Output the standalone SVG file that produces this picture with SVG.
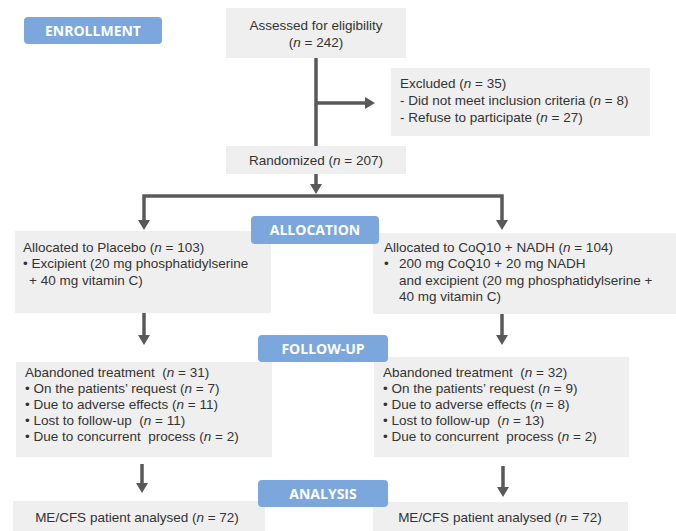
<svg xmlns="http://www.w3.org/2000/svg" width="676" height="531" viewBox="0 0 676 531">
<defs>
<style>
.box{fill:#efefef}
.badge{fill:#7ba7dc}
.bt{font-family:"Open Sans","DejaVu Sans",sans-serif;font-weight:bold;font-size:14px;fill:#fff;text-anchor:middle}
.t{font-family:"Liberation Sans",Arial,sans-serif;font-size:13.5px;fill:#333;white-space:pre}
.c{text-anchor:middle}
.i{font-style:italic}
.ln{fill:none;stroke:#595959;stroke-width:3.5;stroke-linejoin:miter}
</style>
<marker id="ah" markerUnits="userSpaceOnUse" markerWidth="12" markerHeight="12" refX="1" refY="6" orient="auto">
<path d="M0,0 L10,6 L0,12 z" fill="#595959"/>
</marker>
</defs>
<rect width="676" height="531" fill="#fff"/>

<g id="connectors">
<path class="ln" d="M316,58 V146"/>
<path class="ln" d="M316,103 H366" marker-end="url(#ah)"/>
<path class="ln" d="M316,174 V185" marker-end="url(#ah)"/>
<path class="ln" d="M316,196 H144 V221" marker-end="url(#ah)"/>
<path class="ln" d="M316,196 H502 V221" marker-end="url(#ah)"/>
<path class="ln" d="M144,313 V336" marker-end="url(#ah)"/>
<path class="ln" d="M502,314 V336" marker-end="url(#ah)"/>
<path class="ln" d="M142,464 V484" marker-end="url(#ah)"/>
<path class="ln" d="M503,466 V488" marker-end="url(#ah)"/>
</g>

<g id="assessed">
<rect class="box" x="226" y="8" width="180" height="50"/>
<text class="t c" x="316" y="30">Assessed for eligibility</text>
<text class="t c" x="316" y="47">(<tspan class="i">n</tspan> = 242)</text>
</g>

<g id="excluded">
<rect class="box" x="391" y="68" width="259" height="68"/>
<text class="t" x="400" y="88">Excluded (<tspan class="i">n</tspan> = 35)</text>
<text class="t" x="400" y="105">- Did not meet inclusion criteria (<tspan class="i">n</tspan> = 8)</text>
<text class="t" x="400" y="122">- Refuse to participate (<tspan class="i">n</tspan> = 27)</text>
</g>

<g id="randomized">
<rect class="box" x="226" y="146" width="180" height="28"/>
<text class="t c" x="316" y="165">Randomized (<tspan class="i">n</tspan> = 207)</text>
</g>

<g id="alloc-placebo">
<rect class="box" x="15" y="231" width="256" height="82"/>
<text class="t" x="23" y="252">Allocated to Placebo (<tspan class="i">n</tspan> = 103)</text>
<text class="t" x="23" y="268">• Excipient (20 mg phosphatidylserine</text>
<text class="t" x="29" y="285">+ 40 mg vitamin C)</text>
</g>

<g id="alloc-coq10">
<rect class="box" x="373" y="233" width="303" height="81"/>
<text class="t" x="384" y="252">Allocated to CoQ10 + NADH (<tspan class="i">n</tspan> = 104)</text>
<text class="t" x="384" y="268">•</text>
<text class="t" x="399" y="268">200 mg CoQ10 + 20 mg NADH</text>
<text class="t" x="399" y="285">and excipient (20 mg phosphatidylserine +</text>
<text class="t" x="399" y="301">40 mg vitamin C)</text>
</g>

<g id="followup-placebo">
<rect class="box" x="16" y="362" width="256" height="95"/>
<text class="t" x="25" y="377">Abandoned treatment  (<tspan class="i">n</tspan> = 31)</text>
<text class="t" x="25" y="393">• On the patients’ request (<tspan class="i">n</tspan> = 7)</text>
<text class="t" x="25" y="409">• Due to adverse effects (<tspan class="i">n</tspan> = 11)</text>
<text class="t" x="25" y="425">• Lost to follow-up  (<tspan class="i">n</tspan> = 11)</text>
<text class="t" x="25" y="441">• Due to concurrent  process (<tspan class="i">n</tspan> = 2)</text>
</g>

<g id="followup-coq10">
<rect class="box" x="374" y="357" width="255" height="100"/>
<text class="t" x="383" y="377">Abandoned treatment  (<tspan class="i">n</tspan> = 32)</text>
<text class="t" x="383" y="393">• On the patients’ request (<tspan class="i">n</tspan> = 9)</text>
<text class="t" x="383" y="409">• Due to adverse effects (<tspan class="i">n</tspan> = 8)</text>
<text class="t" x="383" y="425">• Lost to follow-up  (<tspan class="i">n</tspan> = 13)</text>
<text class="t" x="383" y="441">• Due to concurrent  process (<tspan class="i">n</tspan> = 2)</text>
</g>

<g id="analysed-placebo">
<rect class="box" x="13" y="501" width="252" height="30"/>
<text class="t c" x="137" y="522">ME/CFS patient analysed (<tspan class="i">n</tspan> = 72)</text>
</g>

<g id="analysed-coq10">
<rect class="box" x="373" y="502" width="255" height="29"/>
<text class="t c" x="500" y="522">ME/CFS patient analysed (<tspan class="i">n</tspan> = 72)</text>
</g>

<g id="badge-enrollment">
<rect class="badge" x="24" y="17" width="138" height="27" rx="4"/>
<text class="bt" x="93" y="35.5">ENROLLMENT</text>
</g>
<g id="badge-allocation">
<rect class="badge" x="251" y="216" width="128" height="28" rx="4"/>
<text class="bt" x="315" y="235">ALLOCATION</text>
</g>
<g id="badge-followup">
<rect class="badge" x="258" y="335" width="130" height="27" rx="4"/>
<text class="bt" x="323" y="353.5">FOLLOW-UP</text>
</g>
<g id="badge-analysis">
<rect class="badge" x="258" y="480" width="130" height="27" rx="4"/>
<text class="bt" x="323" y="498.5">ANALYSIS</text>
</g>
</svg>
